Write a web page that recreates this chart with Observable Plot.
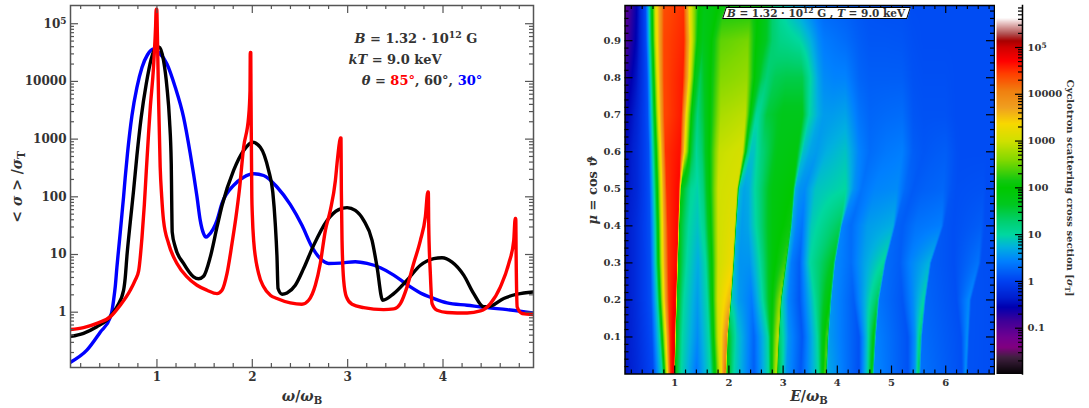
<!DOCTYPE html>
<html><head><meta charset="utf-8">
<script src="https://cdn.jsdelivr.net/npm/d3@7"></script>
<script src="https://cdn.jsdelivr.net/npm/@observablehq/plot@0.6"></script>
<style>
html,body{margin:0;padding:0;background:#fff}
#root{position:relative;width:1089px;height:408px;overflow:hidden;font-family:"DejaVu Serif",serif;font-weight:bold;color:#333}
#root svg{position:absolute;background:transparent;max-width:none}
.t{position:absolute;white-space:nowrap;line-height:1}
.t sub{font-size:.72em;vertical-align:-.25em;line-height:0}
.t sup{font-size:.72em;vertical-align:.45em;line-height:0}
</style></head><body><div id="root"></div>
<script>
// ---------- left panel: averaged cross section ----------
const omegaBlue=[0.094,0.265,0.405,0.510,0.526,0.545,0.563,0.580,0.597,0.615,0.633,0.650,0.667,0.691,0.738,0.790,0.843,0.901,0.964,1.017,1.105,1.192,1.279,1.349,1.420,1.454,1.489,1.514,1.541,1.630,1.682,1.804,1.909,2.014,2.119,2.259,2.399,2.521,2.626,2.713,2.800,2.923,3.080,3.203,3.343,3.483,3.623,3.763,3.902,4.043,4.253,4.463,4.673,4.952];
const sigmaBlue=[0.136,0.22,0.45,0.81,1,1.6,2.8,6,11.8,24,50,100,215,563,2570,7900,17500,29000,36500,32000,20000,7900,2400,563,100,39,23,20,21.5,39,77,158,219,251,234,148,73,32,13.5,8.5,7,7.1,7.5,7,5.9,4.4,3,2.16,1.73,1.45,1.32,1.2,1.11,0.97];
const omegaBlack=[0.094,0.230,0.370,0.475,0.580,0.650,0.667,0.685,0.720,0.755,0.790,0.835,0.888,0.940,0.993,1.027,1.069,1.105,1.132,1.150,1.154,1.156,1.160,1.192,1.279,1.384,1.437,1.489,1.559,1.630,1.682,1.804,1.909,2.003,2.084,2.171,2.215,2.241,2.259,2.270,2.312,2.364,2.451,2.538,2.643,2.784,2.906,2.994,3.080,3.168,3.256,3.308,3.367,3.483,3.623,3.763,3.902,3.990,4.095,4.217,4.322,4.427,4.497,4.637,4.778,4.952];
const sigmaBlack=[0.38,0.43,0.56,0.73,1.23,2.4,3.9,9.3,36,129,520,2400,9100,24500,39000,39000,23000,7900,2100,373,110,58,24.5,13.5,7,4.1,3.8,4.2,9,30,70,286,633,884,725,286,120,34,9,2.57,2.05,2.16,2.93,5.7,14.4,39,60,65,58,39,17.6,6.1,1.61,2.1,3.6,6.5,8.5,8.8,7.4,4.4,2.1,1.24,1.27,1.73,2.05,2.25];
const omegaRed=[0.094,0.230,0.370,0.510,0.615,0.720,0.772,0.808,0.843,0.868,0.888,0.912,0.930,0.964,0.979,0.986,0.992,0.998,1.005,1.017,1.034,1.050,1.069,1.122,1.210,1.315,1.420,1.525,1.630,1.682,1.735,1.787,1.829,1.864,1.909,1.961,1.976,1.979,1.984,1.986,1.990,1.995,2.000,2.014,2.066,2.119,2.189,2.259,2.399,2.521,2.591,2.661,2.713,2.766,2.818,2.871,2.892,2.913,2.924,2.930,2.934,2.941,2.958,2.987,3.046,3.168,3.378,3.483,3.553,3.623,3.692,3.763,3.815,3.841,3.846,3.850,3.867,3.885,3.938,4.043,4.253,4.393,4.497,4.602,4.690,4.742,4.757,4.763,4.767,4.778,4.830,4.952];
const sigmaRed=[0.5,0.54,0.64,0.83,1.32,2.4,3.6,5.2,19.6,74,275,1250,3500,17500,50000,90000,178000,178000,60000,5000,326,100,39,15.5,7,4.1,2.93,2.4,2.1,2.4,4.7,15.5,45,129,725,2400,6900,31800,31800,6900,950,100,50,17.6,4.7,2.75,1.97,1.73,1.45,1.37,1.61,2.93,7,26,58,190,427,850,1050,1050,129,17.6,3.6,1.84,1.37,1.2,1.11,1.14,1.41,2.75,7,17.6,45,121,121,34,4.7,1.41,1.08,0.99,0.97,1.05,1.41,2.75,7,17.6,42,42,9,1.23,0.95,0.91];
const omegaMajor=[1,2,3,4];
const omegaMinor=[0.2,0.4,0.6,0.8,1.2,1.4,1.6,1.8,2.2,2.4,2.6,2.8,3.2,3.4,3.6,3.8,4.2,4.4,4.6,4.8];
const decades=[0.01,0.1,1,10,100,1000,10000,100000];
const minorMult=[2,3,4,5,6,7,8,9];

// ---------- right panel: cross section map, log10(sigma) read along rows of mu ----------
const muRows=[0,0.1,0.2,0.3,0.4,0.5,0.6,0.7,0.8,0.9,1];
const heatE=[
[.08,.30,.60,.77,.86,.92,.985,1.01,1.12,1.40,1.66,1.84,1.93,1.96,2.09,2.46,2.73,2.82,2.875,2.90,3.05,3.32,3.65,3.78,3.81,4.40,4.55,4.64,4.67,5.30,5.44,5.50,5.53,6.30,6.37,6.40,6.92],
[.08,.30,.58,.72,.83,.91,1.0,1.025,1.14,1.42,1.63,1.80,1.96,1.985,2.14,2.46,2.72,2.80,2.91,2.93,3.1,3.35,3.63,3.81,3.84,4.40,4.55,4.68,4.71,5.30,5.44,5.53,5.56,6.28,6.40,6.43,6.92],
[.08,.30,.56,.68,.79,.89,1.02,1.045,1.17,1.42,1.60,1.80,2.02,2.05,2.18,2.42,2.62,2.80,2.95,2.975,3.1,3.3,3.58,3.86,3.89,4.30,4.5,4.74,4.77,5.2,5.4,5.60,5.63,6.2,6.43,6.47,6.92],
[.08,.30,.55,.65,.77,.88,1.04,1.065,1.22,1.43,1.57,1.80,2.07,2.10,2.2,2.38,2.57,2.8,3.04,3.07,3.15,3.3,3.5,3.93,3.96,4.25,4.5,4.86,4.89,5.15,5.35,5.70,5.73,6.15,6.60,6.65,6.92],
[.08,.3,.54,.64,.76,.87,1.06,1.09,1.26,1.42,1.54,1.80,2.11,2.14,2.24,2.35,2.5,2.8,3.13,3.16,3.25,3.35,3.52,4.05,4.08,4.25,4.55,5.03,5.07,5.2,5.45,5.92,5.96,6.15,6.65,6.72,6.92],
[.08,.3,.53,.62,.75,.85,1.08,1.12,1.3,1.42,1.52,1.80,2.15,2.19,2.28,2.36,2.5,2.8,3.18,3.22,3.3,3.4,3.6,4.15,4.3,4.45,4.7,5.1,5.25,5.4,5.6,5.95,6.1,6.2,6.7,6.75,6.92],
[.08,.3,.52,.6,.73,.83,1.1,1.2,1.3,1.4,1.5,1.82,2.25,2.34,2.4,2.46,2.6,2.9,3.25,3.36,3.5,3.62,3.8,4.15,4.4,4.6,4.9,5.2,5.4,5.6,5.8,6.0,6.2,6.3,6.7,6.8,6.92],
[.08,.3,.50,.58,.70,.81,1.12,1.22,1.33,1.42,1.52,1.85,2.3,2.42,2.5,2.55,2.7,3.0,3.35,3.48,3.65,3.75,3.9,4.15,4.4,4.6,4.9,5.2,5.4,5.6,5.8,6.0,6.2,6.3,6.7,6.8,6.92],
[.08,.3,.49,.56,.68,.80,1.15,1.28,1.38,1.47,1.56,1.85,2.33,2.5,2.62,2.7,2.85,3.05,3.35,3.5,3.65,3.75,3.95,4.15,4.4,4.6,4.9,5.2,5.4,5.6,5.8,6.0,6.2,6.3,6.7,6.8,6.92],
[.08,.3,.47,.54,.66,.80,1.17,1.3,1.42,1.52,1.62,1.85,2.35,2.5,2.7,2.8,2.95,3.1,3.3,3.5,3.65,3.75,3.95,4.15,4.4,4.6,4.9,5.2,5.4,5.6,5.8,6.0,6.2,6.3,6.7,6.8,6.92],
[.08,.3,.46,.53,.65,.8,1.16,1.28,1.45,1.55,1.7,1.9,2.4,2.6,2.72,2.8,2.95,3.1,3.3,3.5,3.65,3.75,3.95,4.15,4.4,4.6,4.9,5.2,5.4,5.6,5.8,6.0,6.2,6.3,6.7,6.8,6.92]
];
const heatLog=[
[-.42,-.25,.05,1,3.2,4.5,4.9,1.8,1,.35,1,3.1,4.2,1.9,1,.2,1,2.4,3,1.6,.6,.15,1,2.5,.7,.1,.9,2,.5,.12,.6,1.4,.35,.1,.55,.12,.08],
[-.42,-.22,.08,1,3.2,4.5,4.9,1.8,1,.5,1,3,4,1.7,.9,.25,1,2.1,3,1.3,.55,.15,1,2.4,.6,.12,.85,1.9,.45,.12,.55,1.3,.3,.1,.55,.12,.08],
[-.42,-.2,.1,1,3.2,4.5,4.8,1.8,1,.6,1,3.1,3.6,.9,.6,.4,1,2,2.7,1,.45,.15,1,2,.55,.2,.7,1.4,.35,.15,.5,1,.25,.1,.5,.12,.08],
[-.42,-.2,.1,1,3.2,4.5,4.7,1.8,1,.7,1,3,3.3,.8,.55,.55,1,1.9,2.3,.8,.4,.2,1,1.7,.5,.3,.65,1.05,.3,.2,.45,.75,.2,.1,.35,.1,.08],
[-.42,-.2,.1,1,3.2,4.5,4.7,1.7,1,.85,1.1,3,3.2,.75,.6,.65,1,1.85,2.1,.7,.45,.35,.9,1.4,.45,.3,.6,.72,.25,.2,.35,.42,.15,.1,.2,.1,.08],
[-.45,-.25,.1,1,3.2,4.5,4.7,1.8,1.05,.95,1.2,3,3.1,.8,.65,.7,1.05,1.8,2,.7,.55,.5,.85,1.0,.55,.35,.46,.5,.28,.18,.22,.26,.14,.1,.12,.08,.08],
[-.5,-.25,.1,1,3.2,4.5,4.65,3,1.6,1.05,1.3,2.95,3.05,1.3,.85,.85,1.2,1.75,1.85,.85,.65,.6,.72,.85,.45,.3,.38,.42,.2,.15,.18,.2,.1,.08,.08,.08,.08],
[-.6,-.3,.1,1,3.2,4.4,4.6,3.2,1.7,1.2,1.5,2.8,2.9,1.7,1.05,1.05,1.5,1.7,1.7,1,.7,.6,.6,.65,.35,.25,.28,.3,.15,.12,.12,.12,.08,.08,.08,.08,.08],
[-.75,-.4,.1,1,3.2,4.4,4.6,3.2,1.8,1.4,1.7,2.6,2.7,1.85,1.4,1.25,1.4,1.45,1.45,1,.65,.5,.45,.45,.25,.2,.2,.2,.12,.1,.1,.1,.08,.08,.08,.08,.08],
[-.95,-.5,.1,1,3.2,4.4,4.55,3.2,2,1.7,1.85,2.45,2.55,2,1.6,1.3,1.15,1.1,1,.75,.5,.4,.35,.3,.2,.15,.15,.14,.1,.08,.08,.08,.08,.08,.08,.08,.08],
[-1.1,-.55,.1,1,3.2,4.35,4.5,3.2,2,1.75,1.85,2.1,2.1,1.85,1.6,1.3,1,.8,.6,.4,.3,.25,.22,.2,.15,.12,.1,.1,.08,.08,.08,.08,.08,.08,.08,.08,.08]
];
const eMajor=[1,2,3,4,5,6];
const eMinor=[.2,.4,.6,.8,1.2,1.4,1.6,1.8,2.2,2.4,2.6,2.8,3.2,3.4,3.6,3.8,4.2,4.4,4.6,4.8,5.2,5.4,5.6,5.8,6.2,6.4,6.6,6.8];
const muMajor=[.1,.2,.3,.4,.5,.6,.7,.8,.9];
const muMinor=[.02,.04,.06,.08,.12,.14,.16,.18,.22,.24,.26,.28,.32,.34,.36,.38,.42,.44,.46,.48,.52,.54,.56,.58,.62,.64,.66,.68,.72,.74,.76,.78,.82,.84,.86,.88,.92,.94,.96,.98];

// ---------- colour bar stops: log10(sigma) -> colour ----------
const cbLog=[-2,-1.62,-1.41,-1.19,-.85,-.55,-.34,0,.43,.725,1,1.28,1.64,2,2.15,2.58,3,3.37,3.71,4.07,4.43,4.71,5,5.14,5.29,5.42,5.56,5.63,6];
const cbColor=["#000000","#402040","#800080","#700090","#400098","#0000b0","#0020d0","#0040f0","#0080ff","#00b0e0","#00d8a0","#00d070","#00c820","#00c800","#10c810","#80d800","#d0e000","#f8d800","#f0a020","#f08010","#ff4000","#ff0000","#d00000","#a80000","#b05050","#d09090","#f0d8d8","#ffffff","#ffffff"];
const cbTicks=[0.1,1,10,100,1000,10000,100000];
const cbMinor=decades.flatMap(d=>minorMult.map(m=>d*m));

// ---------- helpers ----------
const root=document.getElementById("root");
const fmt=d=>d===100000?"10⁵":String(d);
const style={fontFamily:"DejaVu Serif",fontWeight:"bold",color:"#333"};
function add(svg,left,top){
  svg.style.left=left+"px";svg.style.top=top+"px";
  svg.querySelectorAll("text").forEach(t=>{
    if(t.textContent==="10⁵"){
      t.textContent="10";
      const s=document.createElementNS("http://www.w3.org/2000/svg","tspan");
      s.textContent="5";s.setAttribute("dy","-0.4em");s.setAttribute("font-size","0.75em");
      t.appendChild(s);
    }
  });
  root.appendChild(svg);
}
function label(html,x,y,opt={}){
  const e=document.createElement("div");e.className="t";e.innerHTML=html;
  e.style.left=x+"px";e.style.top=y+"px";
  e.style.fontSize=(opt.size||13)+"px";
  e.style.transform=`translate(-50%,-50%)${opt.rot?` rotate(${opt.rot}deg)`:""}`;
  root.appendChild(e);return e;
}
function heatAt(E,mu){
  let i=d3.bisectRight(muRows,mu)-1;i=Math.max(0,Math.min(muRows.length-2,i));
  const t=(mu-muRows[i])/(muRows[i+1]-muRows[i]);
  const a=heatE[i],b=heatE[i+1],va=heatLog[i],vb=heatLog[i+1];
  let prevE=a[0]+t*(b[0]-a[0]),prevV=va[0]+t*(vb[0]-va[0]);
  for(let k=1;k<a.length;k++){
    const e=a[k]+t*(b[k]-a[k]),v=va[k]+t*(vb[k]-va[k]);
    if(E<=e){return prevV+(v-prevV)*(E-prevE)/Math.max(e-prevE,1e-6);}
    prevE=e;prevV=v;
  }
  return prevV;
}

// ---------- left panel ----------
const LW=463,LH=362,gray="#555";
const yMajor=[1,10,100,1000,10000,100000];
const yMinor=decades.flatMap(d=>minorMult.map(m=>d*m)).filter(v=>v>0.11&&v<2e5);
add(Plot.plot({
  width:560,height:400,marginLeft:70,marginRight:27,marginTop:5,marginBottom:33,style,
  x:{domain:[0.0934,4.949]},
  y:{type:"log",domain:[0.11,2.07e5]},
  marks:[
    Plot.line(sigmaBlue,{x:omegaBlue,y:sigmaBlue,stroke:"#0000ff",strokeWidth:3.4,curve:"monotone-x",clip:true}),
    Plot.line(sigmaBlack,{x:omegaBlack,y:sigmaBlack,stroke:"#000",strokeWidth:3.4,curve:"monotone-x",clip:true}),
    Plot.line(sigmaRed,{x:omegaRed,y:sigmaRed,stroke:"#ff0000",strokeWidth:3.4,curve:"monotone-x",clip:true}),
    Plot.frame({stroke:gray,strokeWidth:1.5}),
    Plot.tickX(omegaMajor,{x:d=>d,insetTop:LH-8,stroke:gray,strokeWidth:1.2}),
    Plot.tickX(omegaMajor,{x:d=>d,insetBottom:LH-8,stroke:gray,strokeWidth:1.2}),
    Plot.tickX(omegaMinor,{x:d=>d,insetTop:LH-4,stroke:gray,strokeWidth:1.2}),
    Plot.tickX(omegaMinor,{x:d=>d,insetBottom:LH-4,stroke:gray,strokeWidth:1.2}),
    Plot.tickY(yMajor,{y:d=>d,insetRight:LW-8,stroke:gray,strokeWidth:1.2}),
    Plot.tickY(yMajor,{y:d=>d,insetLeft:LW-8,stroke:gray,strokeWidth:1.2}),
    Plot.tickY(yMinor,{y:d=>d,insetRight:LW-4,stroke:gray,strokeWidth:1.2}),
    Plot.tickY(yMinor,{y:d=>d,insetLeft:LW-4,stroke:gray,strokeWidth:1.2}),
    Plot.axisX({ticks:omegaMajor,tickSize:0,tickPadding:5,tickFormat:String,label:null,fontSize:12}),
    Plot.axisY({ticks:yMajor,tickSize:0,tickPadding:4,tickFormat:fmt,label:null,fontSize:12})
  ]
}),0,0);

// ---------- right panel ----------
const HW=369.5,HH=368.5;
add(Plot.plot({
  width:405,height:398,marginLeft:34.5,marginRight:1,marginTop:5,marginBottom:24.5,style,
  x:{domain:[0.083,6.9]},
  y:{domain:[0,0.995]},
  color:{type:"linear",domain:cbLog,range:cbColor,interpolate:"rgb",clamp:true},
  marks:[
    Plot.raster({fill:heatAt,x1:0.083,x2:6.9,y1:0,y2:0.995,pixelSize:1}),
    Plot.frame({stroke:"#000",strokeWidth:1.5}),
    Plot.tickX(eMajor,{x:d=>d,insetTop:HH-8,stroke:"#000",strokeWidth:1.2}),
    Plot.tickX(eMajor,{x:d=>d,insetBottom:HH-8,stroke:"#000",strokeWidth:1.2}),
    Plot.tickX(eMinor,{x:d=>d,insetTop:HH-4,stroke:"#000",strokeWidth:1.2}),
    Plot.tickX(eMinor,{x:d=>d,insetBottom:HH-4,stroke:"#000",strokeWidth:1.2}),
    Plot.tickY(muMajor,{y:d=>d,insetRight:HW-8,stroke:"#000",strokeWidth:1.2}),
    Plot.tickY(muMajor,{y:d=>d,insetLeft:HW-8,stroke:"#000",strokeWidth:1.2}),
    Plot.tickY(muMinor,{y:d=>d,insetRight:HW-4,stroke:"#000",strokeWidth:1.2}),
    Plot.tickY(muMinor,{y:d=>d,insetLeft:HW-4,stroke:"#000",strokeWidth:1.2}),
    Plot.axisX({ticks:eMajor,tickSize:0,tickPadding:5,tickFormat:String,label:null,fontSize:10}),
    Plot.axisY({ticks:muMajor,tickSize:0,tickPadding:4,tickFormat:d=>String(d),label:null,fontSize:10})
  ]
}),590,0);

// ---------- colour bar ----------
const cbTop=7.9e5,cbBottom=0.0105;
add(Plot.plot({
  width:99,height:398,marginLeft:6,marginRight:67,marginTop:5,marginBottom:24.5,style,
  x:{domain:[0,1],axis:null},
  y:{type:"log",domain:[cbBottom,cbTop]},
  color:{type:"linear",domain:cbLog,range:cbColor,interpolate:"rgb",clamp:true},
  marks:[
    Plot.raster({fill:(x,y)=>Math.log10(y),x1:0,x2:1,y1:cbBottom,y2:cbTop,pixelSize:1}),
    Plot.frame({anchor:"right",stroke:"#000",strokeWidth:1.5}),
    Plot.tickY(cbTicks,{y:d=>d,insetLeft:26-7,stroke:"#000",strokeWidth:1.2}),
    Plot.tickY(cbMinor.filter(v=>v>cbBottom&&v<cbTop),{y:d=>d,insetLeft:26-4,stroke:"#000",strokeWidth:1.2}),
    Plot.axisY({anchor:"right",ticks:cbTicks,tickSize:0,tickPadding:5,tickFormat:fmt,label:null,fontSize:10})
  ]
}),990,0);

// ---------- text ----------
label("<i>ω</i>/<i>ω</i><sub>B</sub>",302,396,{size:14});
label("&lt; <i>σ</i> &gt; /<i>σ</i><sub>T</sub>",17,187,{rot:-90,size:14});
label("<i>E</i>/<i>ω</i><sub>B</sub>",809,396,{size:14});
label("<i>μ</i> = cos <i>ϑ</i>",592,190,{rot:-90,size:13});
label("Cyclotron scattering cross section [<i>σ</i><sub>T</sub>]",1070,188,{rot:90,size:10});
label("<i>B</i> = 1.32 · 10<sup>12</sup> G",416,38,{size:13});
label("<i>kT</i> = 9.0 keV",395,59,{size:13});
label('<i>θ</i> = <span style="color:#f00">85°</span>, 60°, <span style="color:#00f">30°</span>',422,80,{size:13});
const box=document.createElement("div");
box.style.cssText="position:absolute;left:724px;top:7px;width:185px;height:12px;background:#fff;border:1px solid #000;box-sizing:border-box;transform:skewX(-18deg)";
root.appendChild(box);
label("<i>B</i> = 1.32 · 10<sup>12</sup> G , <i>T</i> = 9.0 keV",816,13,{size:10.5});
</script></body></html>
